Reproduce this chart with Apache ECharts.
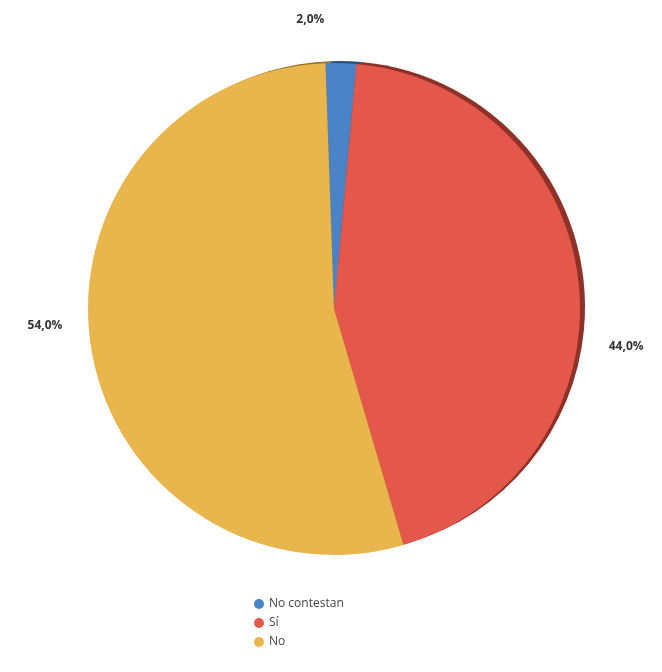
<!DOCTYPE html>
<html>
<head>
<meta charset="utf-8">
<script src="https://cdn.jsdelivr.net/npm/echarts@6/dist/echarts.min.js"></script>
<style>
    html, body { margin: 0; padding: 0; background: #fff; }
    #J_pie { width: 662px; height: 672px; }
</style>
</head>
<body>
<div id="J_pie"></div>
<script>
const CATEGORIES = ['No contestan', 'Sí', 'No'];
const VALUES = [2.0, 44.0, 54.0];
const COLORS = ['#4a84c6', '#e4584b', '#e8b64c'];
const RIM_COLORS = ['#2c5080', '#8e3128', '#96702a'];
// nudges so labels sit where the tilted original put them
const LABEL_OFFSETS = [[-54, -26], [3, 63], [-2, -26]];

const CENTER = [334, 309];
const RADIUS = 246;
const START = 92;

function initPie() {
    let data = CATEGORIES.map((name, i) => ({
        name: name,
        value: VALUES[i],
        itemStyle: {color: COLORS[i]},
        label: {offset: LABEL_OFFSETS[i]}
    }));
    // dark copy behind, shifted a bit, gives the thick edge on the right
    let rimData = CATEGORIES.map((name, i) => ({
        name: name,
        value: VALUES[i],
        itemStyle: {color: RIM_COLORS[i]}
    }));

    let options = {
        animation: false,
        legend: {
            orient: 'vertical',
            left: 249,
            top: 593,
            icon: 'circle',
            itemWidth: 10,
            itemHeight: 10,
            itemGap: 7,
            textStyle: {
                color: '#444',
                fontSize: 12,
                fontFamily: 'Open Sans'
            },
            data: CATEGORIES.map((n, i) => ({name: n, itemStyle: {color: COLORS[i]}}))
        },
        series: [{
            type: 'pie',
            name: 'rim',
            z: 1,
            silent: true,
            center: [CENTER[0] + 5, CENTER[1] - 2],
            radius: RADIUS,
            startAngle: START,
            label: {show: false},
            labelLine: {show: false},
            emphasis: {disabled: true},
            data: rimData
        }, {
            type: 'pie',
            name: 'main',
            z: 2,
            center: CENTER,
            radius: RADIUS,
            startAngle: START,
            clockwise: true,
            label: {
                show: true,
                position: 'outside',
                color: '#333',
                fontSize: 12,
                fontWeight: 'bold',
                fontFamily: 'Open Sans',
                formatter: function (param) {
                    return param.value.toFixed(1).replace('.', ',') + '%';
                }
            },
            labelLine: {
                show: false,
                length: 18,
                length2: 4
            },
            itemStyle: {borderWidth: 0},
            emphasis: {disabled: true},
            data: data
        }]
    };
    let pie = echarts.init(document.getElementById('J_pie'));
    pie.setOption(options);
}

initPie();
</script>
</body>
</html>
